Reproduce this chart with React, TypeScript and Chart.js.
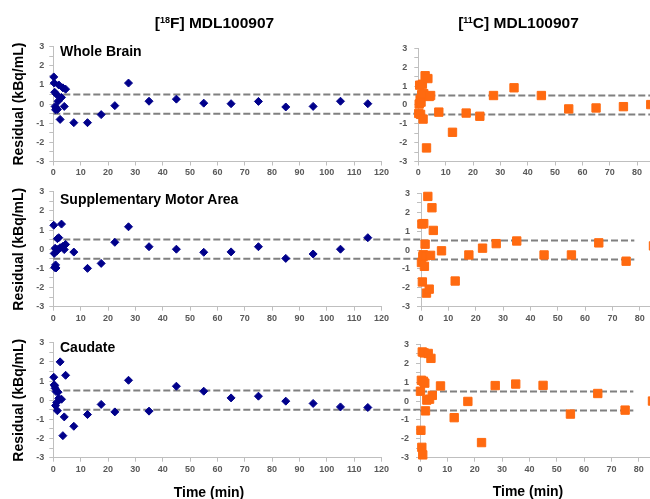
import React, { useEffect, useRef } from 'react';
import { Chart, registerables } from 'chart.js';

Chart.register(...registerables);

// ---------- data (time in min, residual in kBq/mL) ----------
const F18_TIMES = [0.17, 0.33, 0.5, 0.67, 0.83, 1.0, 1.25, 1.5, 1.75, 2.0, 2.5, 3.0, 3.5, 4.0, 4.5,
  7.5, 12.5, 17.5, 22.5, 27.5, 35, 45, 55, 65, 75, 85, 95, 105, 115];
const C11_TIMES = [0.17, 0.33, 0.5, 0.67, 0.83, 1.0, 1.25, 1.5, 1.75, 2.0, 2.5, 3.0, 3.5, 4.0, 4.5,
  7.5, 12.5, 17.5, 22.5, 27.5, 35, 45, 55, 65, 75, 85];

const WB_F18 = [1.42, 1.1, 0.62, -0.12, -0.3, -0.2, 0.5, -0.28, 0.15, 1.0, -0.8, 0.35, 0.85, -0.12, 0.78,
  -0.97, -0.97, -0.55, -0.08, 1.1, 0.15, 0.26, 0.05, 0.02, 0.14, -0.15, -0.12, 0.15, 0.02];
const SMA_F18 = [1.25, -0.22, -0.95, 0.05, -0.82, -0.98, -0.1, 0.55, 0.0, 0.6, 0.08, 1.31, 0.15, -0.02, 0.25,
  -0.15, -1.0, -0.74, 0.36, 1.17, 0.13, 0.0, -0.16, -0.14, 0.13, -0.48, -0.25, 0.0, 0.6];
const CAU_F18 = [1.2, 0.8, 0.75, 0.62, -0.28, 0.45, -0.12, -0.55, 0.42, 0.1, 2.0, 0.05, -1.85, -0.87, 1.3,
  -1.36, -0.75, -0.22, -0.61, 1.04, -0.57, 0.73, 0.47, 0.12, 0.21, -0.05, -0.17, -0.35, -0.38];

const WB_C11 = [-0.45, 0.05, 1.05, 0.3, -0.5, 0.15, 0.55, 1.1, -0.75, 0.6, 1.55, -2.28, 1.4, 0.45, 0.5,
  -0.38, -1.45, -0.43, -0.6, 0.5, 0.91, 0.5, -0.21, -0.16, -0.09, 0.02];
const SMA_C11 = [-0.66, 1.38, -1.69, -0.35, -0.25, 1.4, -0.86, 0.31, -0.3, -2.28, 2.84, -2.07, -0.28, 2.24, 1.04,
  -0.04, -1.64, -0.26, 0.1, 0.34, 0.48, -0.26, -0.26, 0.38, -0.59, 0.22];
const CAU_C11 = [0.52, -1.55, 1.1, -2.45, 2.6, -2.85, 1.05, 2.55, 0.95, -0.52, 0.05, 2.52, 0.1, 2.26, 0.3,
  0.8, -0.88, -0.02, -2.2, 0.82, 0.9, 0.83, -0.69, 0.4, -0.48, 0.0];

const REGION_LABELS = ['Whole Brain', 'Supplementary Motor Area', 'Caudate'];
const BAND_LIMITS = [0.5, -0.5];
const X_MIN = 0;
const X_MAX = 120;
const X_STEP = 10;
const Y_MIN = -3;
const Y_MAX = 3;
const Y_LABEL = 'Residual (kBq/mL)';
const X_LABEL = 'Time (min)';

// ---------- layout & style ----------
const FONT = '"Liberation Sans", Arial, Helvetica, sans-serif';
const PLOT_W = 328.2;
const LEFT_PLOT_X = 53.3;
const RIGHT_PLOT_X = [418.3, 421, 420];
const ROWS = [
  { top: 46.7, bottom: 161.5 },
  { top: 191.7, bottom: 306.7 },
  { top: 342.7, bottom: 457.7 },
];
const AXIS_COLOR = '#bfbfbf';
const TICK_COLOR = '#595959';
const DASH_COLOR = '#808080';
const NAVY = '#00008b';
const ORANGE = '#ff6a10';

type PanelProps = {
  times: number[];
  values: number[];
  color: string;
  pointStyle: string;
  radius: number;
  plotLeft: number;
  plotTop: number;
  plotBottom: number;
  canvasLeft: number;
  canvasWidth: number;
  bandEnd: number;
  showYTitle: boolean;
  tickPad: number;
};

function Panel(p: PanelProps) {
  const ref = useRef<HTMLCanvasElement | null>(null);
  const wy = p.plotLeft - p.canvasLeft;
  const canvasTop = Math.floor(p.plotTop) - 10;
  const padTop = p.plotTop - canvasTop;
  const canvasHeight = Math.ceil(p.plotBottom - canvasTop + 22);
  const hx = canvasTop + canvasHeight - p.plotBottom;
  const padRight = p.canvasWidth - wy - PLOT_W;

  useEffect(() => {
    if (!ref.current) return;
    const tickFont = { family: FONT, size: 9, weight: 'bold' as const };
    const chart = new Chart(ref.current, {
      type: 'scatter',
      data: {
        datasets: [
          {
            data: p.times.map((t, i) => ({ x: t, y: p.values[i] })),
            pointStyle: p.pointStyle as any,
            pointRadius: p.radius,
            backgroundColor: p.color,
            borderColor: p.color,
            borderWidth: 1,
            showLine: false,
            clip: false as any,
            order: 0,
          },
          ...BAND_LIMITS.map((b) => ({
            data: [{ x: X_MIN, y: b }, { x: p.bandEnd, y: b }],
            showLine: true,
            borderColor: DASH_COLOR,
            borderWidth: 2,
            borderDash: [7, 3],
            pointRadius: 0,
            clip: false as any,
            order: 1,
          })),
        ],
      },
      options: {
        responsive: false,
        animation: false,
        devicePixelRatio: 1,
        layout: { padding: { top: padTop, right: padRight, bottom: 0, left: 0 } },
        plugins: { legend: { display: false }, tooltip: { enabled: false } },
        scales: {
          x: {
            type: 'linear',
            min: X_MIN,
            max: X_MAX,
            ticks: { stepSize: X_STEP, font: tickFont, color: TICK_COLOR, padding: 2, maxRotation: 0, autoSkip: false },
            grid: { drawOnChartArea: false, drawTicks: true, tickLength: 4, color: AXIS_COLOR },
            border: { color: AXIS_COLOR, width: 1 },
            afterFit: (s: any) => { s.height = hx; },
          },
          y: {
            type: 'linear',
            min: Y_MIN,
            max: Y_MAX,
            ticks: {
              stepSize: 0.5,
              font: tickFont,
              color: TICK_COLOR,
              padding: p.tickPad,
              autoSkip: false,
              callback: (v: any) => (Number.isInteger(Number(v)) ? String(v) : ''),
            },
            grid: { drawOnChartArea: false, drawTicks: true, tickLength: 4, color: AXIS_COLOR },
            border: { color: AXIS_COLOR, width: 1 },
            title: {
              display: p.showYTitle,
              text: Y_LABEL,
              color: '#000',
              font: { family: FONT, size: 14, weight: 'bold' },
              padding: { top: 11, bottom: 0 },
            },
            afterFit: (s: any) => { s.width = wy; },
          },
        },
      } as any,
    });
    return () => chart.destroy();
  }, []);

  return (
    <canvas
      ref={ref}
      width={p.canvasWidth}
      height={canvasHeight}
      style={{ position: 'absolute', left: p.canvasLeft, top: canvasTop, width: p.canvasWidth, height: canvasHeight }}
    />
  );
}

const textBase: React.CSSProperties = {
  position: 'absolute',
  fontFamily: FONT,
  fontWeight: 'bold',
  color: '#000',
  lineHeight: 1,
  whiteSpace: 'nowrap',
};

export default function App() {
  const f18 = [WB_F18, SMA_F18, CAU_F18];
  const c11 = [WB_C11, SMA_C11, CAU_C11];
  const labelTops = [44.2, 191.5, 339.9];
  const rightBandEnd = [X_MAX, 78, 78];
  return (
    <div style={{ position: 'absolute', left: 0, top: 0, width: 650, height: 499, overflow: 'hidden', background: '#fff' }}>
      {ROWS.map((r, i) => {
        const leftBandEnd = ((RIGHT_PLOT_X[i] - LEFT_PLOT_X) / PLOT_W) * (X_MAX - X_MIN);
        return (
          <React.Fragment key={i}>
            <Panel
              times={F18_TIMES}
              values={f18[i]}
              color={NAVY}
              pointStyle="rectRot"
              radius={4}
              plotLeft={LEFT_PLOT_X}
              plotTop={r.top}
              plotBottom={r.bottom}
              canvasLeft={0}
              canvasWidth={430}
              bandEnd={leftBandEnd}
              showYTitle={true}
              tickPad={5}
            />
            <Panel
              times={C11_TIMES}
              values={c11[i]}
              color={ORANGE}
              pointStyle="rect"
              radius={5.9}
              plotLeft={RIGHT_PLOT_X[i]}
              plotTop={r.top}
              plotBottom={r.bottom}
              canvasLeft={375}
              canvasWidth={Math.ceil(RIGHT_PLOT_X[i] - 375 + PLOT_W + 20)}
              bandEnd={rightBandEnd[i]}
              showYTitle={false}
              tickPad={7}
            />
            <div style={{ ...textBase, left: 60, top: labelTops[i], fontSize: 14 }}>{REGION_LABELS[i]}</div>
          </React.Fragment>
        );
      })}
      <div style={{ ...textBase, left: 214.5, top: 15.2, fontSize: 15.5, transform: 'translateX(-50%)' }}>
        [<sup style={{ fontSize: 9, verticalAlign: 'baseline', position: 'relative', top: -5, lineHeight: 0 }}>18</sup>F] MDL100907
      </div>
      <div style={{ ...textBase, left: 518.5, top: 15.2, fontSize: 15.5, transform: 'translateX(-50%)' }}>
        [<sup style={{ fontSize: 9, verticalAlign: 'baseline', position: 'relative', top: -5, lineHeight: 0 }}>11</sup>C] MDL100907
      </div>
      <div style={{ ...textBase, left: 209, top: 484.8, fontSize: 14, transform: 'translateX(-50%)' }}>{X_LABEL}</div>
      <div style={{ ...textBase, left: 528, top: 484.2, fontSize: 14, transform: 'translateX(-50%)' }}>{X_LABEL}</div>
    </div>
  );
}
